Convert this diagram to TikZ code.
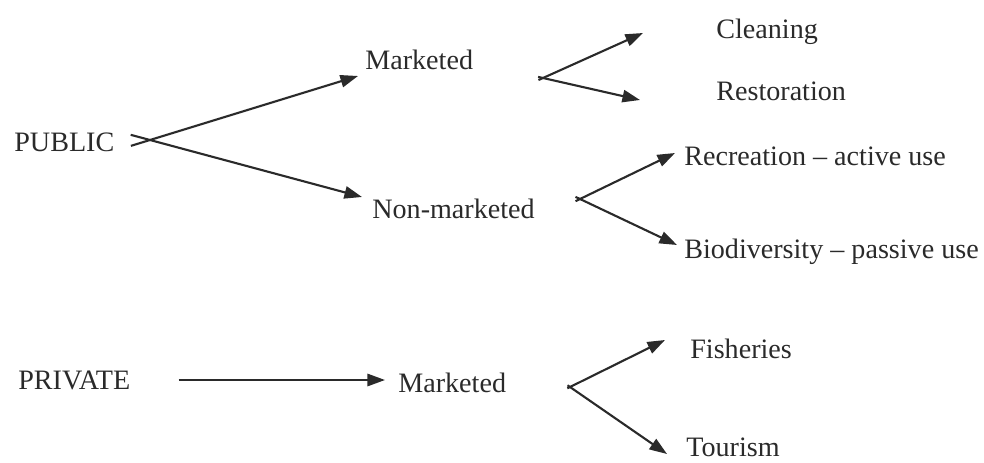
\documentclass[tikz,border=0pt]{standalone}
\usepackage{fontspec}
\setmainfont{Liberation Serif}
\usepackage{tikz}
\usetikzlibrary{arrows.meta,calc}
\definecolor{ink}{HTML}{2A2A2A}
\tikzset{
  item/.style={
    font=\fontsize{16}{19}\selectfont, text=ink, inner sep=0pt, anchor=base west
  },
  arrow/.style={-{Triangle[length=10pt,width=7pt]}, line width=1.2pt, ink},
}

\begin{document}
\begin{tikzpicture}[x=0.02cm, y=-0.02cm]
    \useasboundingbox (0,0) rectangle (984,463);

    % owners
    \node[item] (pub)  at (14,151)  {PUBLIC};
    \node[item] (priv) at (18,389)  {PRIVATE};

    % market split
    \node[item] (mkt)    at (365,69)  {Marketed};
    \node[item] (nonmkt) at (372,218) {Non-marketed};
    \node[item] (pmkt)   at (398,392) {Marketed};

    % uses
    \node[item] (clean) at (716,38)  {Cleaning};
    \node[item] (rest)  at (716,100) {Restoration};
    \node[item] (recr)  at (684,165) {Recreation -- active use};
    \node[item] (bio)   at (684,258) {Biodiversity -- passive use};
    \node[item] (fish)  at (690,358) {Fisheries};
    \node[item] (tour)  at (686,456) {Tourism};

    \coordinate (pubsplit)  at (150,140);
    \coordinate (mktsplit)  at (543,78);
    \coordinate (nmsplit)   at (580,199);
    \coordinate (pmktsplit) at (570,387);

    \draw[arrow, shorten <=-0.4cm]  (pubsplit) -- ($(mkt.base west)+(-7,7)$);
    \draw[arrow, shorten <=-0.4cm]  (pubsplit) -- ($(nonmkt.base west)+(-10,-21)$);
    \draw[arrow, shorten <=-0.1cm]  (mktsplit) -- ($(clean.base west)+(-73,-5)$);
    \draw[arrow, shorten <=-0.1cm]  (mktsplit) -- ($(rest.base west)+(-76,0)$);
    \draw[arrow, shorten <=-0.1cm]  (nmsplit) -- ($(recr.base west)+(-9,-12)$);
    \draw[arrow, shorten <=-0.1cm]  (nmsplit) -- ($(bio.base west)+(-7,-13)$);
    \draw[arrow, shorten <=0.96cm] (priv.east |- 0,380) -- ($(pmkt.base west)+(-13,-12)$);
    \draw[arrow, shorten <=-0.06cm] (pmktsplit) -- ($(fish.base west)+(-25,-18)$);
    \draw[arrow, shorten <=-0.06cm] (pmktsplit) -- ($(tour.base west)+(-19,-2)$);
  \end{tikzpicture}
\end{document}
